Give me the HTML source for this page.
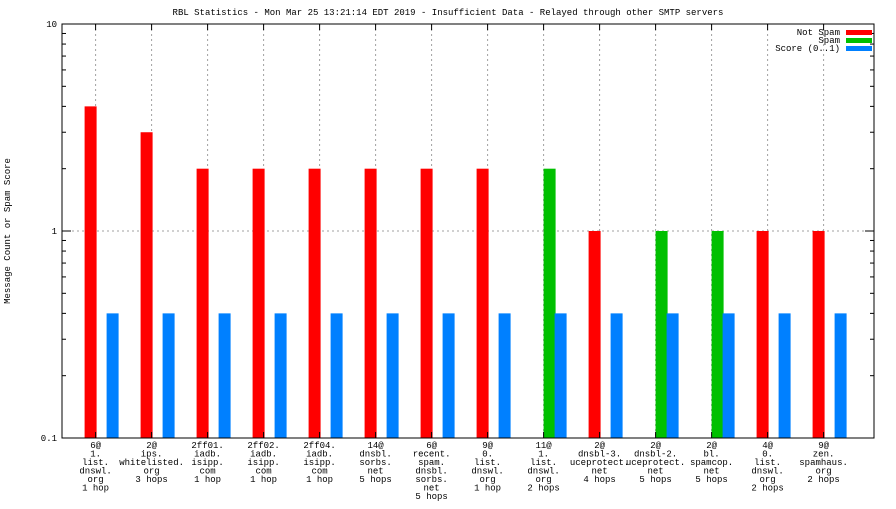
<!DOCTYPE html>
<html><head><meta charset="utf-8"><style>
body{margin:0;background:#fff}
svg text{font-family:"Liberation Mono","DejaVu Sans Mono",monospace;font-size:9px;fill:#000}
</style></head><body>
<svg id="chart" width="896" height="504" viewBox="0 0 896 504" xmlns="http://www.w3.org/2000/svg">
<text x="448" y="15" text-anchor="middle">RBL Statistics - Mon Mar 25 13:21:14 EDT 2019 - Insufficient Data - Relayed through other SMTP servers</text>
<text transform="translate(10,231) rotate(-90)" text-anchor="middle">Message Count or Spam Score</text>
<g id="grid"></g><g id="bars"></g><g id="axes"></g><g id="labels"></g>
<g>
<text x="840" y="35" text-anchor="end">Not Spam</text>
<rect x="846" y="30" width="26" height="5" fill="#ff0000"/>
<text x="840" y="43" text-anchor="end">Spam</text>
<rect x="846" y="38" width="26" height="5" fill="#00c000"/>
<text x="840" y="51" text-anchor="end">Score (0..1)</text>
<rect x="846" y="46" width="26" height="5" fill="#0080ff"/>
</g>
</svg>
<script>
const categories=[["6@","1.","list.","dnswl.","org","1 hop"],["2@","ips.","whitelisted.","org","3 hops"],["2ff01.","iadb.","isipp.","com","1 hop"],["2ff02.","iadb.","isipp.","com","1 hop"],["2ff04.","iadb.","isipp.","com","1 hop"],["14@","dnsbl.","sorbs.","net","5 hops"],["6@","recent.","spam.","dnsbl.","sorbs.","net","5 hops"],["9@","0.","list.","dnswl.","org","1 hop"],["11@","1.","list.","dnswl.","org","2 hops"],["2@","dnsbl-3.","uceprotect.","net","4 hops"],["2@","dnsbl-2.","uceprotect.","net","5 hops"],["2@","bl.","spamcop.","net","5 hops"],["4@","0.","list.","dnswl.","org","2 hops"],["9@","zen.","spamhaus.","org","2 hops"]];
const notSpam=[4,3,2,2,2,2,2,2,0,1,0,0,1,1];
const spam=[0,0,0,0,0,0,0,0,2,0,1,1,0,0];
const score=[0.4,0.4,0.4,0.4,0.4,0.4,0.4,0.4,0.4,0.4,0.4,0.4,0.4,0.4];
const yTicks=[0.1,1,10];
const yTickLabels=["0.1","1","10"];
const NS="http://www.w3.org/2000/svg";
const L=62,R=874,T=24,B=438;
const xs=i=>L+(i+0.6)*56;
const ys=v=>231-207*Math.log10(v);
function mk(tag,attrs,parent){const e=document.createElementNS(NS,tag);for(const k in attrs)e.setAttribute(k,attrs[k]);document.getElementById(parent).appendChild(e);return e;}
// grid
const hg=mk('line',{x1:L,x2:R,y1:ys(1),y2:ys(1),stroke:'#a0a0a0','stroke-dasharray':'2,3'},'grid');


categories.forEach((c,i)=>{
 const g=mk('line',{x1:xs(i),x2:xs(i),y1:T,y2:B,stroke:'#a0a0a0','stroke-dasharray':'2,3'},'grid');
 
 
});
// bars
function bar(v,x,color,name){
 if(!(v>0))return;
 const y=ys(v);
 const r=mk('rect',{x:x,y:y,width:12,height:B-y,fill:color},'bars');
 
 
}
categories.forEach((c,i)=>{
 const cx=xs(i);
 bar(notSpam[i],cx-11,'#ff0000','bar-not-spam');
 bar(spam[i],cx,'#00c000','bar-spam');
 bar(score[i],cx+11,'#0080ff','bar-score');
 const t=mk('text',{x:cx,y:B+10,'text-anchor':'middle'},'labels');
 
 
 c.forEach((s,j)=>{const ts=document.createElementNS(NS,'tspan');ts.setAttribute('x',cx);ts.setAttribute('dy',j?8.5:0);ts.textContent=s;t.appendChild(ts);});
 mk('line',{x1:cx,x2:cx,y1:B,y2:B-6,stroke:'#000'},'axes');
 mk('line',{x1:cx,x2:cx,y1:T,y2:T+6,stroke:'#000'},'axes');
});
// axes
const fr=mk('rect',{x:L,y:T,width:R-L,height:B-T,fill:'none',stroke:'#000'},'axes');


yTicks.forEach((v,i)=>{
 const y=ys(v);
 mk('line',{x1:L,x2:L+9,y1:y,y2:y,stroke:'#000'},'axes');
 mk('line',{x1:R,x2:R-9,y1:y,y2:y,stroke:'#000'},'axes');
 const t=mk('text',{x:L-5,y:y+3,'text-anchor':'end'},'labels');
 
 
 t.textContent=yTickLabels[i];
 if(i<yTicks.length-1){for(let m=2;m<10;m++){const yy=ys(v*m);
  mk('line',{x1:L,x2:L+4,y1:yy,y2:yy,stroke:'#000'},'axes');
  mk('line',{x1:R,x2:R-4,y1:yy,y2:yy,stroke:'#000'},'axes');}}
});
</script>
</body></html>
